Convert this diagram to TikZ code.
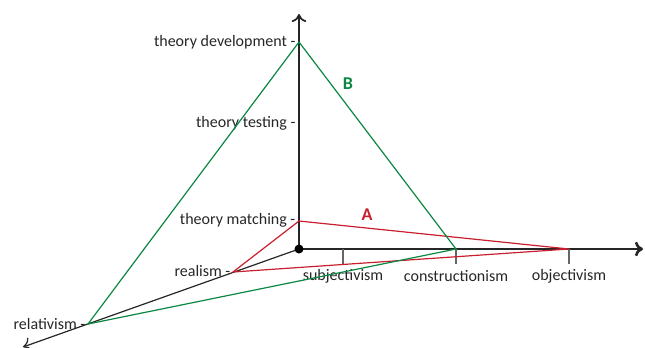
\documentclass[tikz,border=0pt]{standalone}
\usepackage{fontspec}
\setmainfont{Carlito}
\usetikzlibrary{arrows.meta}
\definecolor{triA}{RGB}{200,30,45}
\definecolor{triB}{RGB}{10,135,65}

\begin{document}
\begin{tikzpicture}[x=0.75pt,y=-0.75pt,font=\fontsize{12}{14}\selectfont,
  axis/.style={draw=black!85,-{To[length=6pt,width=11pt]}},
  tick/.style={draw=black!60,line width=1pt},
  lab/.style={inner sep=1pt,text=black!85},
  tri/.style={line width=0.9pt}]
\useasboundingbox (0,0) rectangle (645,347);
% axes
\coordinate (O) at (299,249);
\coordinate (up) at (299,14);
\coordinate (right) at (643,249);
\coordinate (down) at (23,347);
\draw[axis,line width=1.3pt] (O) -- (up);
\draw[axis,line width=2pt] (O) -- (right);
\draw[axis,line width=0.9pt] (O) -- (down);

% points on the axes
\coordinate (TD) at (299,42);
\coordinate (TT) at (299,123);
\coordinate (TM) at (299,221);
\coordinate (Re) at (233,272);
\coordinate (Rl) at (88,324);
\coordinate (Su) at (343,249);
\coordinate (Co) at (456,249);
\coordinate (Ob) at (569,249);

\draw[tick] (Su) -- ++(0,15);
\draw[tick] (Co) -- ++(0,15);
\draw[tick] (Ob) -- ++(0,15);

\node[lab,anchor=east] (tdl) at (297,42) {theory development -};
\node[lab,anchor=east] (ttl) at (297,123) {theory testing -};
\node[lab,anchor=east] (tml) at (297,220) {theory matching -};
\node[lab,anchor=east] (rel) at (232,271) {realism -};
\node[lab,anchor=east] (rll) at (87,324) {relativism -};
\node[lab] (sul) at (343,276) {subjectivism};
\node[lab] (col) at (456,276) {constructionism};
\node[lab] (obl) at (569,276) {objectivism};

% triangles
\draw[tri,triA] (TM) -- (Re) -- (Ob) -- cycle;
\draw[tri,triB] (TD) -- (Rl) -- (Co) -- cycle;
\node[text=triA,font=\fontsize{13.5}{15}\selectfont\bfseries] (A) at (367,215) {A};
\node[text=triB,font=\fontsize{13.5}{15}\selectfont\bfseries] (B) at (348,84) {B};

\fill (O) circle (4.5);
\end{tikzpicture}
\end{document}
